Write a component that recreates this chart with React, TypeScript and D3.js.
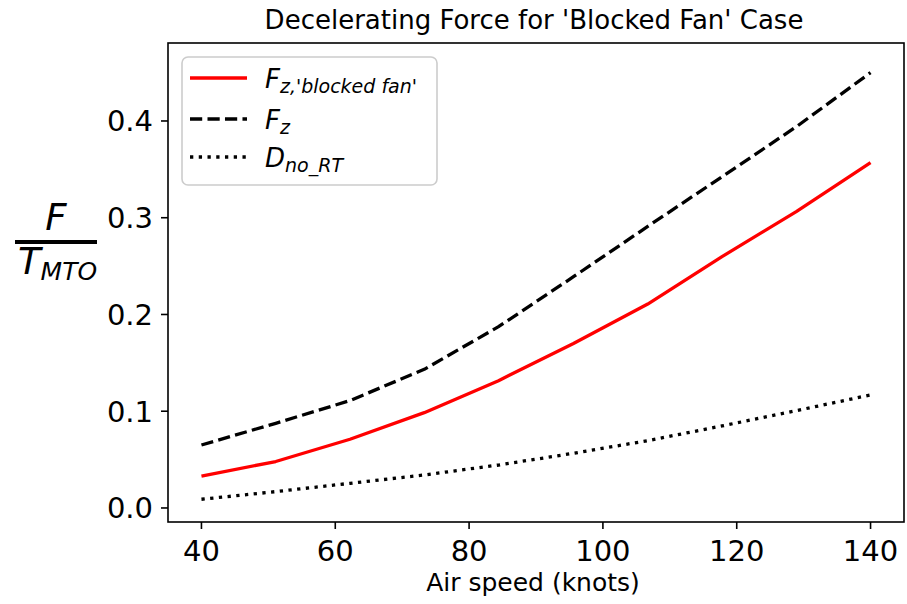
import * as d3 from "d3";

// air speed samples (knots)
const speeds = [40, 51.1, 62.2, 73.3, 84.4, 95.6, 106.7, 117.8, 128.9, 140];
// F / T_MTO values
const blockedFan = [0.033, 0.048, 0.071, 0.0985, 0.1316, 0.170, 0.2108, 0.2598, 0.3063, 0.357];
const fz = [0.0651, 0.0875, 0.111, 0.1433, 0.1874, 0.239, 0.291, 0.3424, 0.394, 0.450];
const dNoRT = [0.009, 0.0169, 0.0255, 0.0341, 0.0444, 0.0565, 0.0696, 0.0848, 0.1006, 0.1168];

const xTicks = [40, 60, 80, 100, 120, 140];
const yTicks = [0, 0.1, 0.2, 0.3, 0.4];

const W = 907, H = 604;
const plot = { left: 168, right: 904, top: 43, bottom: 522 };
const FONT = "DejaVu Sans, sans-serif";
const LW = 3.3;

export default function App() {
  const x = d3.scaleLinear().domain([35, 145]).range([plot.left, plot.right]);
  const y = d3.scaleLinear().domain([-0.0145, 0.4806]).range([plot.bottom, plot.top]);
  const line = d3.line<number>().x((_d, i) => x(speeds[i])).y(d => y(d));

  const series = [
    { values: blockedFan, color: "#ff0000", dash: "none", main: "F", sub: "z,'blocked fan'" },
    { values: fz, color: "#000000", dash: `${3.7 * LW},${1.6 * LW}`, main: "F", sub: "z" },
    { values: dNoRT, color: "#000000", dash: `${1 * LW},${1.65 * LW}`, main: "D", sub: "no_RT" },
  ];

  return (
    <svg width={W} height={H} style={{ position: "absolute", left: 0, top: 0, background: "#fff" }} fontFamily={FONT}>
      <rect x={0} y={0} width={W} height={H} fill="#fff" />
      <text x={(plot.left + plot.right) / 2 - 2} y={29} textAnchor="middle" fontSize={26}>
        Decelerating Force for 'Blocked Fan' Case
      </text>

      {series.map((s, i) => (
        <path key={i} d={line(s.values) ?? ""} fill="none" stroke={s.color} strokeWidth={LW}
          strokeDasharray={s.dash} strokeLinecap="butt" strokeLinejoin="round" />
      ))}

      {/* spines */}
      <rect x={plot.left} y={plot.top} width={plot.right - plot.left} height={plot.bottom - plot.top}
        fill="none" stroke="#000" strokeWidth={1.6} />

      {/* x axis */}
      {xTicks.map(t => (
        <g key={t}>
          <line x1={x(t)} x2={x(t)} y1={plot.bottom} y2={plot.bottom + 7} stroke="#000" strokeWidth={1.6} />
          <text x={x(t)} y={561} textAnchor="middle" fontSize={29}>{t}</text>
        </g>
      ))}
      <text x={(plot.left + plot.right) / 2 - 3} y={591} textAnchor="middle" fontSize={25}>Air speed (knots)</text>

      {/* y axis */}
      {yTicks.map(t => (
        <g key={t}>
          <line x1={plot.left - 7} x2={plot.left} y1={y(t)} y2={y(t)} stroke="#000" strokeWidth={1.6} />
          <text x={153} y={y(t) + 10.5} textAnchor="end" fontSize={29}>{t.toFixed(1)}</text>
        </g>
      ))}
      <g fontStyle="italic">
        <text x={56} y={230} textAnchor="middle" fontSize={37}>F</text>
        <rect x={15} y={240} width={82} height={4} fill="#000" />
        <text x={18} y={274} fontSize={37}>T<tspan fontSize={25} dy={6}>MTO</tspan></text>
      </g>

      {/* legend */}
      <rect x={182} y={57} width={255} height={128} rx={6} fill="#fff" fillOpacity={0.8} stroke="#cccccc" strokeWidth={1.6} />
      {series.map((s, i) => {
        const ly = [78, 119, 157][i];
        return (
          <g key={i}>
            <line x1={190} x2={247} y1={ly} y2={ly} stroke={s.color} strokeWidth={LW} strokeDasharray={s.dash} />
            <text x={265} y={ly + 10} fontSize={26} fontStyle="italic">
              {s.main}<tspan fontSize={19} dy={5}>{s.sub}</tspan>
            </text>
          </g>
        );
      })}
    </svg>
  );
}
